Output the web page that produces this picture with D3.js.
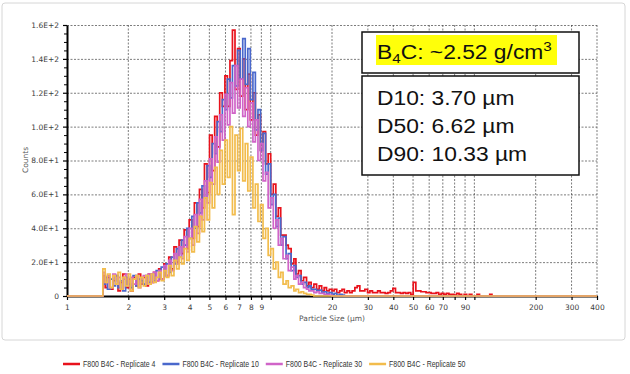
<!DOCTYPE html>
<html>
<head>
<meta charset="utf-8">
<script src="https://d3js.org/d3.v7.min.js"></script>
<style>
  body { margin: 0; background: #fff; }
  svg { display: block; }
</style>
</head>
<body>
<div id="chart"></div>
<script>
// particle size channels (µm)
var sizes = [1.50,1.54,1.58,1.63,1.68,1.73,1.78,1.83,1.88,1.94,2.00,2.05,2.11,2.18,2.24,2.30,2.37,2.44,2.51,2.59,
  2.66,2.74,2.82,2.90,2.99,3.07,3.16,3.25,3.35,3.45,3.55,3.65,3.76,3.87,3.98,4.10,4.22,4.34,4.47,4.60,
  4.73,4.87,5.01,5.16,5.31,5.46,5.62,5.79,5.96,6.13,6.31,6.49,6.68,6.88,7.08,7.29,7.50,7.72,7.94,8.18,
  8.41,8.66,8.91,9.17,9.44,9.72,10.0,10.3,10.6,10.9,11.2,11.5,11.9,12.2,12.6,13.0,13.3,13.7,14.1,14.5,
  15.0,15.4,15.8,16.3,16.8,17.3,17.8,18.3,18.8,19.4,20.0,20.5,21.1,21.8,22.4,23.0,23.7,24.4,25.1,25.9,
  26.6,27.4,28.2,29.0,29.9,30.7,31.6,32.5,33.5,34.5,35.5,36.5,37.6,38.7,39.8,41.0,42.2,43.4,44.7,46.0,
  47.3,48.7,50.1,51.6,53.1,54.6,56.2,57.9,59.6,61.3,63.1,64.9,66.8,68.8,70.8,72.9,75.0,77.2,79.4,81.8,
  84.1,86.6,89.1,91.7,94.4,97.2,100,103,106,109,112,115,119,122,126];

// counts per channel; channels past the end of a list are 0
var rep4 = [12,5,11,4,9,12,3,8,13,5,10,3,11,6,13,7,
  11,6,13,8,14,9,16,10,19,12,23,16,29,20,33,25,
  39,28,45,34,55,41,63,52,78,61,95,74,106,88,120,112,
  130,112,139,157,122,146,118,140,110,131,104,120,95,107,86,97,
  78,84,60,66,47,52,36,36,30,28,19,22,13,15,9,11,
  6,8,5,7,4,6,3,5,3,4,3,4,2,3,4,2,
  3,2,3,5,6,3,3,4,2,3,2,2,3,2,2,1.5,
  2,3,4.5,2,2,1.5,2,1.5,2,1,8,3,3,2.5,2.5,2,
  2,1.5,1.5,2,1,1.5,1,1.5,1,1,0.5,1.5,1,0,1,0,
  1,0,0,1,0,0,0,0,1];
var rep10 = [7,11,4,10,6,12,5,9,3,11,7,5,12,6,10,9,
  7,12,8,13,9,15,10,17,12,19,14,23,19,28,23,33,
  30,40,34,47,40,55,49,65,58,77,70,90,84,103,97,116,
  110,128,117,136,124,145,128,152,125,146,116,132,98,110,86,96,
  72,78,54,60,41,46,30,35,22,25,15,18,11,12,7,8,
  5,6,4,4,3,3.5,2,2.5,1.5,2,1,1.5,0.5,1,0.5];
var rep30 = [14,8,12,5,13,7,11,4,10,13,6,11,7,12,5,10,
  12,7,13,8,14,9,15,10,18,12,21,15,25,19,29,22,
  35,26,40,30,48,37,57,45,68,55,81,66,94,79,107,92,
  119,101,126,108,136,111,128,106,123,100,114,91,104,80,90,68,
  73,52,58,40,45,30,34,22,24,15,17,10,12,7,8,5,
  4,3,3,2,2.5,1.5,1.5,1,1,0.5];
var rep50 = [16,8,13,5,12,7,14,4,11,6,13,3,10,12,5,11,
  6,12,7,13,8,11,14,9,15,11,18,12,21,16,23,19,
  28,21,34,26,41,32,47,38,58,45,67,52,76,60,86,66,
  92,70,100,48,95,74,99,68,90,62,82,52,66,44,54,34,
  40,24,28,16,20,11,14,7,9,5,6,3,4,2,2.5,1.5,
  1,1,0.5];

var seriesNames = ["F800 B4C - Replicate 4", "F800 B4C - Replicate 10",
                   "F800 B4C - Replicate 30", "F800 B4C - Replicate 50"];
var seriesValues = [rep4, rep10, rep30, rep50];
var seriesColors = ["#e8121c", "#4a68cc", "#d064c8", "#f2bc4c"];

var yMajor = [0, 20, 40, 60, 80, 100, 120, 140, 160];
var yLabels = ["0", "2.0E+1", "4.0E+1", "6.0E+1", "8.0E+1", "1.0E+2", "1.2E+2", "1.4E+2", "1.6E+2"];
var xTicks = [1, 2, 3, 4, 5, 6, 7, 8, 9, 10, 20, 30, 40, 50, 60, 70, 80, 90, 100, 200, 300, 400];
var xLabelled = [1, 2, 3, 4, 5, 6, 7, 8, 9, 20, 30, 40, 50, 60, 70, 90, 200, 300, 400];

var W = 630, H = 374;
var svg = d3.select("#chart").append("svg").attr("width", W).attr("height", H);

svg.append("rect").attr("x", 2).attr("y", 3).attr("width", 623).attr("height", 337)
  .attr("rx", 3).attr("fill", "#fff").attr("stroke", "#d6d6d6").attr("stroke-width", 1);

var x = d3.scaleLog().domain([1, 400]).range([67, 597]);
var y = d3.scaleLinear().domain([0, 160]).range([296, 25]);

// dashed grid
var grid = svg.append("g").attr("stroke", "#444").attr("stroke-width", 0.7)
  .attr("stroke-dasharray", "2,1.5");
grid.selectAll("line.h").data(yMajor.slice(1)).enter().append("line")
  .attr("x1", x(1)).attr("x2", x(400))
  .attr("y1", function (d) { return y(d) + 0.5; }).attr("y2", function (d) { return y(d) + 0.5; });
grid.selectAll("line.v").data(xTicks.slice(1)).enter().append("line")
  .attr("y1", y(160)).attr("y2", y(0))
  .attr("x1", function (d) { return x(d); }).attr("x2", function (d) { return x(d); });

var font = "'DejaVu Sans', sans-serif";

// y axis (major + minor ticks)
var yMinor = d3.range(5, 160, 5).filter(function (d) { return d % 20 !== 0; });
svg.append("g").attr("transform", "translate(" + x(1) + ",0)")
  .call(d3.axisLeft(y).tickValues(yMinor).tickFormat("").tickSize(3).tickSizeOuter(0))
  .call(function (g) { g.select(".domain").remove(); });
var gy = svg.append("g").attr("transform", "translate(" + x(1) + ",0)")
  .call(d3.axisLeft(y).tickValues(yMajor)
    .tickFormat(function (d, i) { return yLabels[i]; })
    .tickSize(4).tickPadding(4).tickSizeOuter(0));
gy.select(".domain").attr("stroke-width", 2);
gy.selectAll("text").style("font-family", font).style("font-size", "7.5px").attr("fill", "#404040");
gy.selectAll(".tick line").attr("stroke-width", 1.2);

// x axis
var gx = svg.append("g").attr("transform", "translate(0," + y(0) + ")")
  .call(d3.axisBottom(x).tickValues(xTicks)
    .tickFormat(function (d) { return xLabelled.indexOf(d) >= 0 ? d : ""; })
    .tickSize(4).tickPadding(5).tickSizeOuter(0));
gx.select(".domain").attr("stroke-width", 2);
gx.selectAll("text").style("font-family", font).style("font-size", "7.5px").attr("fill", "#404040");
gx.selectAll(".tick line").attr("stroke-width", 1.2);

// axis titles
svg.append("text").attr("transform", "translate(28,160) rotate(-90)")
  .attr("text-anchor", "middle").style("font-family", font).style("font-size", "7.5px")
  .attr("fill", "#555").text("Counts");
svg.append("text").attr("x", 332).attr("y", 321).attr("text-anchor", "middle")
  .style("font-family", font).style("font-size", "7.5px").attr("fill", "#555")
  .text("Particle Size (µm)");

// series as step lines, flat at zero outside the measured channels
var line = d3.line()
  .x(function (d) { return x(d[0]); })
  .y(function (d) { return y(d[1]); })
  .curve(d3.curveStepAfter);

seriesValues.forEach(function (vals, s) {
  var pts = [[1, 0]];
  sizes.forEach(function (sz, i) { pts.push([sz, i < vals.length ? vals[i] : 0]); });
  pts.push([400, 0]);
  svg.append("path").datum(pts).attr("d", line)
    .attr("fill", "none").attr("stroke", seriesColors[s]).attr("stroke-width", 1.7)
    .attr("stroke-linejoin", "miter");
});

// annotation boxes
var boxFont = "'Liberation Sans', Arial, sans-serif";
svg.append("rect").attr("x", 362).attr("y", 32).attr("width", 217).attr("height", 41)
  .attr("fill", "#fff").attr("stroke", "#111").attr("stroke-width", 1.5);
svg.append("rect").attr("x", 376).attr("y", 35).attr("width", 181).attr("height", 30)
  .attr("fill", "#ffff0a");
var t1 = svg.append("g").attr("transform", "translate(377,59) scale(1.17,1)")
  .append("text").style("font-family", boxFont).style("font-size", "19.5px").attr("fill", "#111");
t1.append("tspan").text("B");
t1.append("tspan").attr("dy", 4).style("font-size", "13px").text("4");
t1.append("tspan").attr("dy", -4).text("C: ~2.52 g/cm");
t1.append("tspan").attr("dy", -8).style("font-size", "13px").text("3");

svg.append("rect").attr("x", 362).attr("y", 76).attr("width", 217).attr("height", 99)
  .attr("fill", "#fff").attr("stroke", "#111").attr("stroke-width", 1.5);
var dLines = ["D10: 3.70 µm", "D50: 6.62 µm", "D90: 10.33 µm"];
var dBase = [105, 133, 161];
dLines.forEach(function (txt, i) {
  svg.append("g").attr("transform", "translate(377," + dBase[i] + ") scale(1.17,1)")
    .append("text").style("font-family", boxFont).style("font-size", "19.5px")
    .attr("fill", "#111").text(txt);
});

// legend (narrow lettering, squeezed to the reference widths)
var lg = svg.append("g").attr("transform", "translate(63,364)");
var cx = 0;
seriesNames.forEach(function (name, i) {
  lg.append("line").attr("x1", cx).attr("x2", cx + 17).attr("y1", 0).attr("y2", 0)
    .attr("stroke", seriesColors[i]).attr("stroke-width", 2.5);
  var t = lg.append("text").attr("x", cx + 20).attr("y", 0).attr("dy", "0.35em")
    .style("font-family", "'Liberation Sans', sans-serif")
    .style("font-size", "8.3px").attr("fill", "#333").text(name);
  var w = t.node().getComputedTextLength() * 0.84;
  t.attr("textLength", w).attr("lengthAdjust", "spacingAndGlyphs");
  cx += 20 + w + 7;
});
</script>
</body>
</html>
